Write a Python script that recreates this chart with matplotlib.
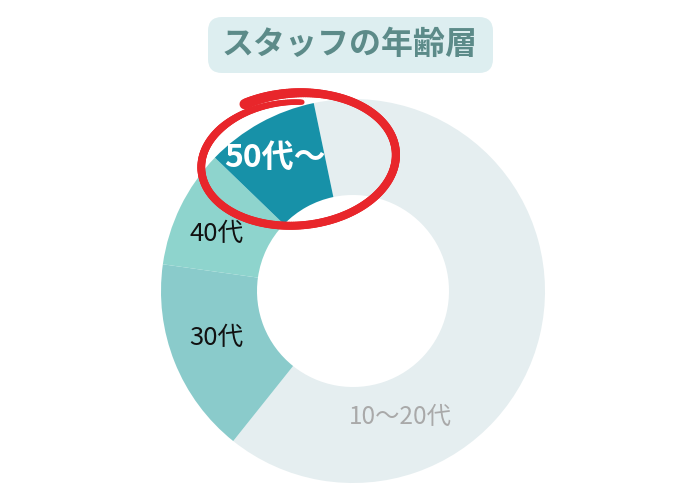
import matplotlib
matplotlib.use("Agg")
import matplotlib.pyplot as plt
import numpy as np
from matplotlib.patches import FancyBboxPatch
from matplotlib.collections import LineCollection

plt.rcParams['font.family'] = ['Noto Sans CJK JP', 'DejaVu Sans']

# data
labels = ['10〜20代', '30代', '40代', '50代〜']
shares = [64, 16.5, 10, 9.5]
colors = ['#E5EEF0', '#8ACBCB', '#8ED4CD', '#1791A8']
title = 'スタッフの年齢層'

W, H = 695, 500
fig = plt.figure(figsize=(W / 100, H / 100), dpi=100)
ax = fig.add_axes((0, 0, 1, 1))

cx, cy, R = 353, 209, 192
ax.pie(shares, colors=colors, startangle=101.8, counterclock=False,
       center=(cx, cy), radius=R,
       wedgeprops=dict(width=R / 2, linewidth=0))

ax.set_xlim(0, W)
ax.set_ylim(0, H)
ax.set_aspect('auto')
ax.axis('off')

# segment labels
ax.text(400, 83, labels[0], fontsize=17.5, color='#A9A9A9', ha='center', va='center')
ax.text(216, 162, labels[1], fontsize=18.5, color='#111111', ha='center', va='center')
ax.text(217, 266, labels[2], fontsize=18.5, color='#111111', ha='center', va='center')
ax.text(275, 342, labels[3], fontsize=23, color='white', fontweight='bold',
        ha='center', va='center')

# title box
box = FancyBboxPatch((208, 427), 285, 56, boxstyle='round,pad=0,rounding_size=14',
                     facecolor='#DDEEF0', edgecolor='none')
ax.add_patch(box)
ax.text(350, 455, title, fontsize=23, fontweight='bold', color='#5C8B89',
        ha='center', va='center')

# hand drawn red circle around 50代〜
ex, ey, ea, eb = 295.5, 339.5, 97.5, 64.5
t = np.radians(np.linspace(116.5, -277.5, 300))
f = np.linspace(0, 1, 300)
s = 1.0 + 0.05 * (1 - f) - 0.1 * f ** 3
px = ea * s * np.cos(t)
py = eb * s * np.sin(t)
phi = np.radians(5)
xs = ex + px * np.cos(phi) - py * np.sin(phi)
ys = ey + px * np.sin(phi) + py * np.cos(phi)
pts = np.column_stack([xs, ys]).reshape(-1, 1, 2)
segs = np.concatenate([pts[:-1], pts[1:]], axis=1)
lw = np.interp(f[:-1], [0, 0.12, 0.85, 1], [7.5, 6, 5.6, 3.8])
lc = LineCollection(segs, colors='#E8262B', linewidths=lw, capstyle='round')
ax.add_collection(lc)

fig.savefig('out.png', dpi=100)
